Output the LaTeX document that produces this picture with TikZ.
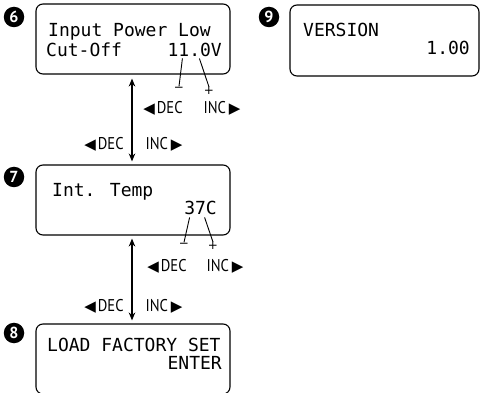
\documentclass[tikz,border=0pt]{standalone}
\usepackage{fontspec}
\setmainfont{PT Sans}
\newfontfamily\lcdfont{DejaVu Sans Mono}
\newfontfamily\keyfont[FakeStretch=0.86]{PT Sans}
\newfontfamily\symfont{DejaVu Sans}
\usetikzlibrary{arrows.meta, positioning}

\newcommand{\declbl}{{\symfont\fontsize{15}{15}\selectfont ◀}\kern2pt DEC}
\newcommand{\inclbl}{INC\kern3pt{\symfont\fontsize{15}{15}\selectfont ▶}}

\begin{document}
\begin{tikzpicture}[x=1pt, y=-1pt,
    screen/.style={draw, rounded corners=7pt, line width=1.1pt, minimum width=194pt, minimum height=70pt, inner sep=0pt},
    lcd/.style={font=\lcdfont\fontsize{18}{18}\selectfont, inner sep=0pt},
    badge/.style={circle, fill=black, text=white, inner sep=0pt, minimum size=20.5pt, font=\bfseries\fontsize{16}{16}\selectfont},
    keylbl/.style={font=\keyfont\fontsize{17}{17}\selectfont, inner sep=0pt},
    sign/.style={font=\symfont\fontsize{12}{12}\selectfont, inner sep=0pt, minimum size=5pt},
    tick/.style={line width=0.9pt},
    >={Stealth[length=8pt, width=6.5pt]}
  ]
  \useasboundingbox (0,0) rectangle (480,393);

  % screen 6
  \node[badge] (numsix) at (14,17) {6};
  \node[screen] (cutoff) at (133,39) {};
  \node[lcd, anchor=base west] (cutoffA) at (48,37) {Input Power Low};
  \node[lcd, anchor=base west] (cutoffB) at (46,57) {Cut-Off};
  \node[lcd, anchor=base east] (cutoffval) at (222,57) {11.0V};
  \node[sign] (cutoffminus) at (179,89) {−};
  \node[sign] (cutoffplus) at (209,91) {+};
  \draw[tick] ([xshift=15pt, yshift=-1pt]cutoffval.south west) -- (cutoffminus.north);
  \draw[tick] ([xshift=32pt, yshift=-1pt]cutoffval.south west) -- (cutoffplus.north);
  \node[keylbl] (cutoffdec) at (163,108) {\declbl};
  \node[keylbl] (cutoffinc) at (222,108) {\inclbl};

  % screen 9
  \node[badge] (numnine) at (269,17) {9};
  \node[screen, minimum width=189pt, minimum height=71pt] (version) at (384.5,40.5) {};
  \node[lcd, anchor=base west] (versionA) at (303,37) {VERSION};
  \node[lcd, anchor=base east] (versionval) at (470,55) {1.00};

  % screen 7
  \node[badge] (numseven) at (14,177) {7};
  \node[screen] (temp) at (133,200) {};
  \node[lcd, anchor=base west] (tempA) at (52,197) {Int. Temp};
  \node[lcd, anchor=base east] (tempval) at (217,215) {37C};
  \node[sign] (tempminus) at (184,245) {−};
  \node[sign] (tempplus) at (213,246) {+};
  \draw[tick] ([xshift=5.5pt, yshift=-2pt]tempval.south west) -- (tempminus.north);
  \draw[tick] ([xshift=20.5pt, yshift=-2pt]tempval.south west) -- (tempplus.north);
  \node[keylbl] (tempdec) at (167,266) {\declbl};
  \node[keylbl] (tempinc) at (225,266) {\inclbl};

  % screen 8
  \node[badge] (numeight) at (14,333) {8};
  \node[screen] (factory) at (133,359) {};
  \node[lcd, anchor=base west] (factoryA) at (47,352) {LOAD FACTORY SET};
  \node[lcd, anchor=base east] (factoryB) at (222,370) {ENTER};

  % scrolling between screens
  \draw[<->, line width=1.4pt, shorten <=4pt, shorten >=3pt] ([xshift=-1pt]cutoff.south) -- ([xshift=-1pt]temp.north);
  \node[keylbl] (upperdec) at (104,144) {\declbl};
  \node[keylbl] (upperinc) at (164,144) {\inclbl};
  \draw[<->, line width=1.4pt, shorten <=3pt, shorten >=3pt] ([xshift=-1pt]temp.south) -- ([xshift=-1pt]factory.north);
  \node[keylbl] (lowerdec) at (104,306) {\declbl};
  \node[keylbl] (lowerinc) at (164,306) {\inclbl};
\end{tikzpicture}
\end{document}
